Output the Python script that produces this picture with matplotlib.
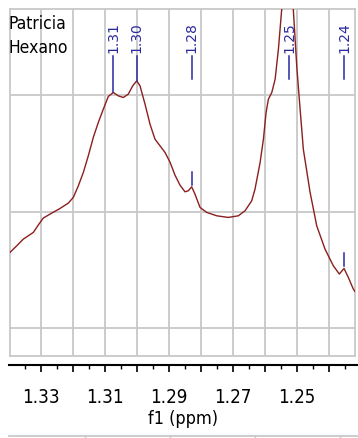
import numpy as np
import matplotlib
matplotlib.use("Agg")
from matplotlib import pyplot as plt
from matplotlib.lines import Line2D

# spectrum trace (ppm, intensity)
ppm = [1.33991, 1.33759, 1.33553, 1.33241, 1.33084, 1.32928, 1.32666, 1.32406,
       1.32147, 1.31991, 1.31834, 1.31678, 1.31522, 1.31366, 1.31209, 1.31053,
       1.30897, 1.30741, 1.30584, 1.30428, 1.30272, 1.30134, 1.30009, 1.29906,
       1.29750, 1.29594, 1.29438, 1.29281, 1.29125, 1.28969, 1.28813, 1.28656,
       1.28500, 1.28397, 1.28291, 1.28188, 1.28031, 1.27822, 1.27509, 1.27147,
       1.26834, 1.26625, 1.26416, 1.26313, 1.26153, 1.26050, 1.25966, 1.25894,
       1.25788, 1.25684, 1.25581, 1.25478, 1.25250, 1.25116, 1.25009, 1.24928,
       1.24803, 1.24591, 1.24384, 1.24125, 1.23866, 1.23678, 1.23531, 1.23397,
       1.23241, 1.23134]
intensity = [1.644, 1.706, 1.764, 1.821, 1.885, 1.945, 1.987, 2.027,
             2.073, 2.122, 2.221, 2.336, 2.479, 2.637, 2.766, 2.880,
             2.989, 3.023, 2.994, 2.980, 3.009, 3.080, 3.123, 3.080,
             2.923, 2.751, 2.622, 2.565, 2.508, 2.425, 2.313, 2.227,
             2.170, 2.179, 2.213, 2.150, 2.036, 1.993, 1.964, 1.950,
             1.964, 2.007, 2.093, 2.193, 2.422, 2.622, 2.852, 2.966,
             3.023, 3.137, 3.395, 3.738, 5.000, 3.738, 3.252, 2.966,
             2.536, 2.165, 1.878, 1.678, 1.535, 1.464, 1.512, 1.435,
             1.335, 1.292]

# picked peaks
peak_ppm = [1.30741, 1.30009, 1.28291, 1.2525, 1.23531]
peak_labels = ["1.31", "1.30", "1.28", "1.25", "1.24"]

x_ticks = [1.33, 1.32, 1.31, 1.30, 1.29, 1.28, 1.27, 1.26, 1.25, 1.24]
x_labels = ["1.33", "", "1.31", "", "1.29", "", "1.27", "", "1.25", ""]
title_lines = "Patricia\nHexano"

W, H = 358, 439
fig = plt.figure(figsize=(W / 100, H / 100), dpi=100)

# plot area (grid box)
ax = fig.add_axes([10 / W, (H - 357) / H, 345 / W, 347 / H])
ax.plot(ppm, intensity, color="#8b1e1e", lw=1.0, zorder=3,
        solid_joinstyle="round")
ax.set_xlim(1.33969, 1.23188)
ax.set_ylim(0.76, 3.74)
ax.set_xticks(x_ticks)
ax.set_yticks([1, 2, 3])
ax.grid(True, color="#c8c8c8", lw=1.3)
ax.tick_params(length=0, labelbottom=False, labelleft=False)
for s in ax.spines.values():
    s.set_color("#c8c8c8")
    s.set_linewidth(1.3)

# peak labels
blue = "#2a2aa0"
px_h = 347.0
def yfrac(ypix):
    return (357 - ypix) / px_h

tr = ax.get_xaxis_transform()
for p, lab in zip(peak_ppm, peak_labels):
    ax.text(p, yfrac(53), lab, rotation=90, ha="center", va="bottom",
            color=blue, fontsize=10, transform=tr)
    yi = np.interp(p, ppm[::-1], intensity[::-1])
    ypk = 357 - (yi - 0.76) / (3.74 - 0.76) * px_h
    if 60 < ypk < 100:
        ax.plot([p, p], [yfrac(57), yfrac(ypk)], color=blue, lw=1.1,
                transform=tr, clip_on=False, zorder=4)
    else:
        ax.plot([p, p], [yfrac(57), yfrac(80)], color=blue, lw=1.1,
                transform=tr, clip_on=False, zorder=4)
        if ypk > 100:
            ax.plot([p, p], [yfrac(ypk - 2), yfrac(ypk - 15)], color=blue,
                    lw=1.1, transform=tr, zorder=4)

fig.text(8 / W, 1 - 15 / H, title_lines, ha="left", va="top",
         fontsize=12.5, linespacing=1.4, family="DejaVu Sans",
         fontstretch="condensed")

# separate x axis below the box
ax2 = fig.add_axes([9 / W, (H - 366) / H, 349 / W, 0.0001])
ax2.set_xlim(1.34, 1.23094)
ax2.patch.set_visible(False)
for k in ["top", "left", "right"]:
    ax2.spines[k].set_visible(False)
ax2.spines["bottom"].set_linewidth(1.5)
ax2.set_yticks([])
ax2.set_xticks(x_ticks)
ax2.set_xticklabels(x_labels, family="DejaVu Sans", fontstretch="condensed",
                    fontsize=13.5)
ax2.set_xticks(np.arange(1.235, 1.34, 0.01), minor=True)
ax2.tick_params(axis="x", which="major", length=5, width=1.2, pad=11)
ax2.tick_params(axis="x", which="minor", length=3, width=1.0)
ax2.set_xlabel("f1 (ppm)", family="DejaVu Sans", fontstretch="condensed",
               fontsize=13, labelpad=2)

# edge of the panel below
yb = 1 - 437 / H
fig.add_artist(Line2D([9 / W, 1], [yb, yb], color="#c8c8c8", lw=1.3))
for xb in [85, 170, 255, 340]:
    fig.add_artist(Line2D([xb / W, xb / W], [yb, 0], color="#c8c8c8", lw=1.0))

fig.savefig("out.png", dpi=100)
